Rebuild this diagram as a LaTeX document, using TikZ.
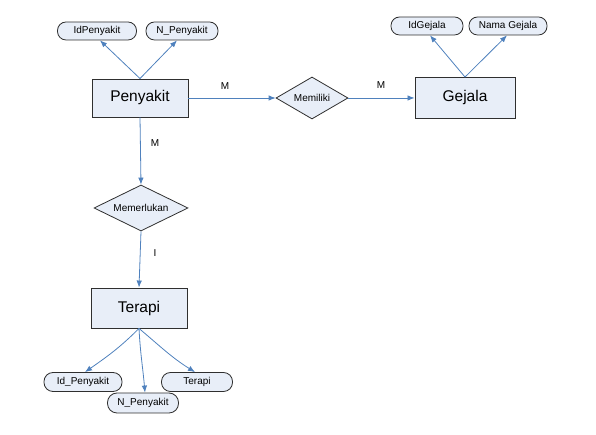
\documentclass[tikz,border=0pt]{standalone}
\usepackage{fontspec}
\setmainfont{Liberation Sans}
\usetikzlibrary{shapes.geometric,arrows.meta}
\definecolor{lineblue}{HTML}{4F81BD}
\definecolor{boxfill}{HTML}{E8EEF8}
\definecolor{boxdraw}{HTML}{2F2F2F}
\tikzset{
  entity/.style={draw=boxdraw, fill=boxfill, line width=0.9pt, inner sep=0pt, font=\fontsize{15.5}{18}\selectfont},
  attrib/.style={draw=boxdraw, fill=boxfill, line width=0.8pt, rounded corners=8.5pt, inner sep=0pt, font=\fontsize{10}{12}\selectfont},
  relation/.style={draw=boxdraw, fill=boxfill, line width=0.8pt, diamond, inner sep=0pt, font=\fontsize{10}{12}\selectfont},
  link/.style={draw=lineblue, line width=0.8pt, -{Latex[length=7pt,width=5.5pt]}},
  card/.style={font=\fontsize{10}{12}\selectfont, inner sep=0pt}
}
\begin{document}
\begin{tikzpicture}[x=1pt,y=1pt]
\useasboundingbox (0,0) rectangle (596,435);
% entities
\node[entity, minimum width=96pt, minimum height=38pt] (pen) at (140,337) {Penyakit};
\node[entity, minimum width=100pt, minimum height=41pt] (gej) at (465,337) {Gejala};
\node[entity, minimum width=96pt, minimum height=40pt] (ter) at (139,127) {Terapi};
% relations
\node[relation, minimum width=72pt, minimum height=42pt, aspect=1.7] (mem) at (312,337) {Memiliki};
\node[relation, minimum width=94pt, minimum height=46pt, aspect=2] (mer) at (141,227) {Memerlukan};
% attributes
\node[attrib, minimum width=79pt, minimum height=18pt] (idp) at (97,404) {IdPenyakit};
\node[attrib, minimum width=72pt, minimum height=18pt] (np) at (182,404) {N\_Penyakit};
\node[attrib, minimum width=72pt, minimum height=18pt] (idg) at (427,409) {IdGejala};
\node[attrib, minimum width=78pt, minimum height=18pt] (ng) at (508,409) {Nama Gejala};
\node[attrib, minimum width=78pt, minimum height=19pt, rounded corners=9pt] (tidp) at (83,53) {Id\_Penyakit};
\node[attrib, minimum width=71pt, minimum height=20pt, rounded corners=9.5pt] (tnp) at (143,32) {N\_Penyakit};
\node[attrib, minimum width=71pt, minimum height=19pt, rounded corners=9pt] (tt) at (197,53) {Terapi};
% attribute links
\draw[link] (pen.north) -- ([xshift=3pt]idp.south);
\draw[link] (pen.north) -- ([xshift=-5pt]np.south);
\draw[link] (gej.north) -- ([xshift=3pt]idg.south);
\draw[link] (gej.north) -- ([xshift=-1pt]ng.south);
\draw[link] (ter.south) to[out=225,in=35] ([xshift=2pt]tidp.north);
\draw[link] (ter.south) to[out=-87,in=95] ([xshift=2pt]tnp.north);
\draw[link] (ter.south) to[out=-40,in=148] ([xshift=-2pt]tt.north);
% relation links
\draw[link] (pen.east) -- (mem.west);
\draw[link] (mem.east) -- (gej.west);
\draw[link] (pen.south) -- (mer.north);
\draw[link] (mer.south) -- (ter.north);
% cardinalities
\node[card] (c1) at (225,349) {M};
\node[card] (c2) at (381,350) {M};
\node[card] (c3) at (155,292) {M};
\node[card] (c4) at (155,182) {I};
\end{tikzpicture}
\end{document}
